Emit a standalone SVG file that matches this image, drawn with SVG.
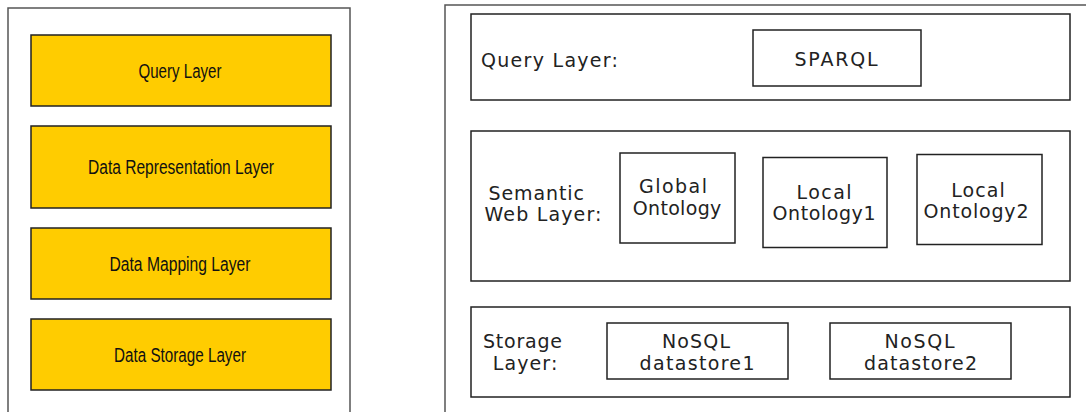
<svg xmlns="http://www.w3.org/2000/svg" width="1086" height="412" viewBox="0 0 1086 412">
<style>
.outer{fill:#fff;stroke:#555;stroke-width:1.5}
.layer{fill:#FFCC00;stroke:#222;stroke-width:1.5}
.box{fill:#fff;stroke:#222;stroke-width:1.5}
.lt{font-family:"Liberation Sans",Arial,sans-serif;font-size:19.5px;fill:#111;text-anchor:middle}
.rt{font-family:"DejaVu Sans",Verdana,sans-serif;font-size:19px;fill:#222}
.c{text-anchor:middle}
</style>
<rect width="1086" height="412" fill="#fff"/>
<g id="left-panel">
<rect class="outer" x="8" y="8" width="342" height="410"/>
</g>
<g id="l-query"><rect class="layer" x="31" y="35" width="300" height="71"/><text class="lt" x="180" y="77.5" textLength="83" lengthAdjust="spacingAndGlyphs">Query Layer</text></g>
<g id="l-rep"><rect class="layer" x="31" y="126" width="300" height="82"/><text class="lt" x="181" y="174" textLength="186" lengthAdjust="spacingAndGlyphs">Data Representation Layer</text></g>
<g id="l-map"><rect class="layer" x="31" y="228" width="300" height="71"/><text class="lt" x="180" y="270.5" textLength="141" lengthAdjust="spacingAndGlyphs">Data Mapping Layer</text></g>
<g id="l-storage"><rect class="layer" x="31" y="319" width="300" height="71"/><text class="lt" x="180" y="362" textLength="132" lengthAdjust="spacingAndGlyphs">Data Storage Layer</text></g>

<g id="right-panel">
<rect class="outer" x="445" y="5" width="660" height="420"/>
</g>
<g id="r-query">
<rect class="box" x="471" y="14" width="599" height="86"/>
<text class="rt" x="481" y="66.5" textLength="137">Query Layer:</text>
</g>
<g id="sparql"><rect class="box" x="753" y="30" width="168" height="56"/><text class="rt c" x="836" y="65.5" textLength="83">SPARQL</text></g>
<g id="r-semantic">
<rect class="box" x="471" y="131" width="599" height="150"/>
<text class="rt" x="488.5" y="200" textLength="95.5">Semantic</text>
<text class="rt" x="484.5" y="221" textLength="117">Web Layer:</text>
</g>
<g id="global-ontology"><rect class="box" x="620" y="153" width="115" height="90"/>
<text class="rt c" x="673" y="193" textLength="68">Global</text>
<text class="rt c" x="677" y="214.5" textLength="88.5">Ontology</text></g>
<g id="local-ontology1"><rect class="box" x="763" y="157.5" width="124" height="90"/>
<text class="rt c" x="824" y="199" textLength="55">Local</text>
<text class="rt c" x="824" y="220" textLength="103">Ontology1</text></g>
<g id="local-ontology2"><rect class="box" x="917" y="154.5" width="125" height="90"/>
<text class="rt c" x="978" y="196.5" textLength="53.5">Local</text>
<text class="rt c" x="976" y="217.5" textLength="105">Ontology2</text></g>
<g id="r-storage">
<rect class="box" x="471" y="307" width="599" height="90"/>
<text class="rt" x="483" y="348.3" textLength="79">Storage</text>
<text class="rt" x="492.7" y="370" textLength="64.6">Layer:</text>
</g>
<g id="nosql1"><rect class="box" x="607" y="323" width="181" height="56"/>
<text class="rt c" x="696" y="348.3" textLength="68">NoSQL</text>
<text class="rt c" x="697" y="370" textLength="115">datastore1</text></g>
<g id="nosql2"><rect class="box" x="830" y="323" width="181" height="56"/>
<text class="rt c" x="919.5" y="348.3" textLength="70">NoSQL</text>
<text class="rt c" x="920.5" y="370" textLength="113">datastore2</text></g>
<g id="connectors"></g>
</svg>
